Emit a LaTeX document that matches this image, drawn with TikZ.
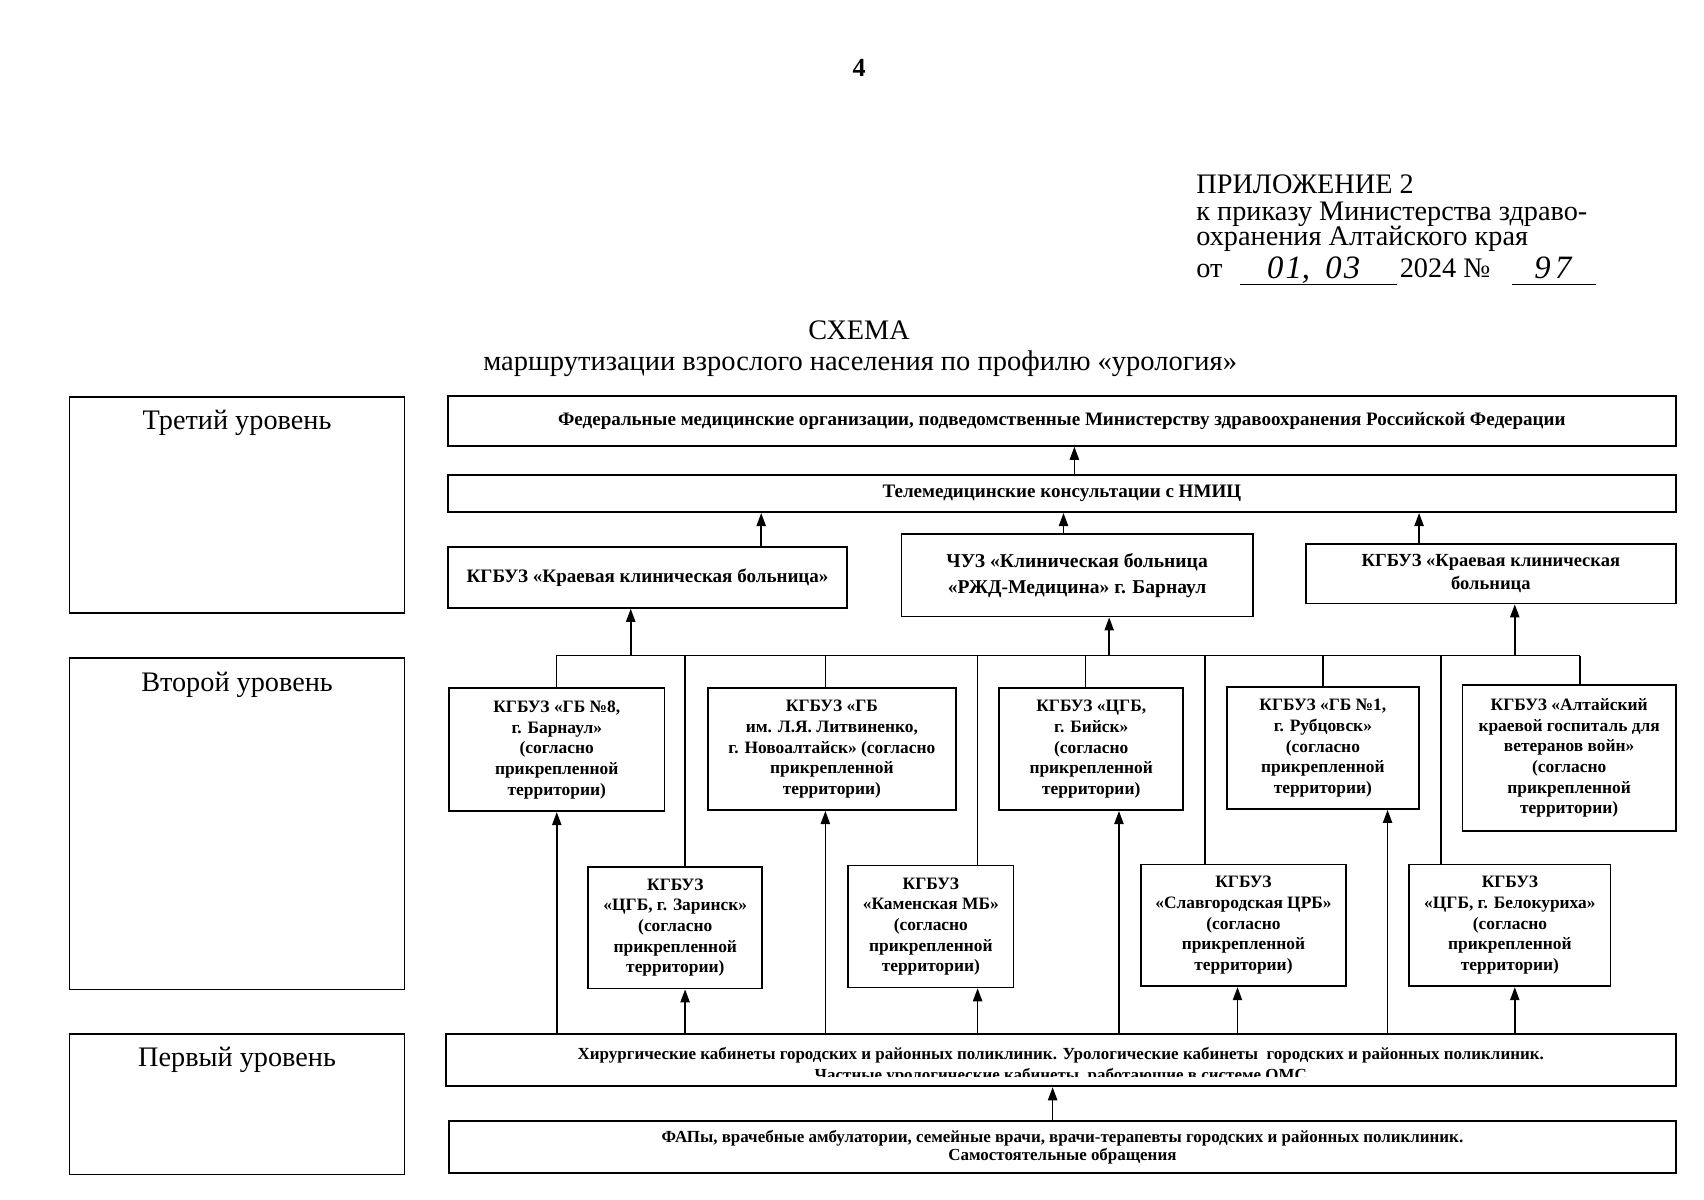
\documentclass[tikz,border=0pt]{standalone}
\usepackage{fontspec}
\setmainfont{Liberation Serif}
\usetikzlibrary{arrows.meta}
\begin{document}
\begin{tikzpicture}[x=1pt,y=-1pt,
  box/.style={draw,line width=1.6pt,inner sep=0pt,align=center,
    font=\fontsize{16}{19}\selectfont\bfseries},
  bigbox/.style={box,font=\fontsize{17.5}{21}\selectfont\bfseries},
  lvl/.style={draw,line width=1.6pt,inner sep=0pt},
  lvltext/.style={font=\fontsize{26}{30}\selectfont,anchor=north,inner sep=0pt},
  hdr/.style={anchor=base west,inner sep=0pt,font=\fontsize{26}{28}\selectfont},
  hand/.style={anchor=base,inner sep=0pt,font=\fontsize{30}{32}\selectfont\itshape},
  ln/.style={line width=1.3pt},
  arr/.style={line width=1.5pt,-{Triangle[length=12pt,width=8.5pt]}},
]
\useasboundingbox (0,0) rectangle (1567,1103);
% page number
\node[font=\fontsize{24}{26}\selectfont\bfseries] (pg) at (790,62) {4};
% header
\node[hdr] (h1) at (1100,178) {ПРИЛОЖЕНИЕ 2};
\node[hdr] (h2) at (1100,203) {к приказу Министерства здраво-};
\node[hdr] (h3) at (1100,226) {охранения Алтайского края};
\node[hdr] (h4) at (1100,255) {от};
\coordinate (u1a) at (1140,262); \coordinate (u1b) at (1285,262);
\draw[line width=1pt] (u1a) -- (u1b);
\node[hand] (d1) at (1208,256) {0\kern2pt1,\kern14pt0\kern2pt3};
\node[hdr] (h5) at (1287,255) {2024 №};
\coordinate (u2a) at (1390,262); \coordinate (u2b) at (1468,262);
\draw[line width=1pt] (u2a) -- (u2b);
\node[hand] (d2) at (1428,256) {9\kern4pt7};
% title
\node[anchor=base,inner sep=0pt,font=\fontsize{26}{30}\selectfont] (t1) at (790,312) {СХЕМА};
\node[anchor=base,inner sep=0pt,font=\fontsize{26.2}{30}\selectfont] (t2) at (791,341) {маршрутизации взрослого населения по профилю «урология»};
% level boxes
\node[lvl,minimum width=308,minimum height=199,
  label={[lvltext,yshift=-13pt]north:Третий уровень}] (L3) at (218,464.5) {};
\node[lvl,minimum width=308,minimum height=305,
  label={[lvltext,yshift=-14pt]north:Второй уровень}] (L2) at (218,757.5) {};
\node[lvl,minimum width=308,minimum height=129,
  label={[lvltext,yshift=-13pt]north:Первый уровень}] (L1) at (218,1015.5) {};
% third level
\node[bigbox,minimum width=1129,minimum height=46] (fed) at (976.5,387)
  {Федеральные медицинские организации, подведомственные Министерству здравоохранения Российской Федерации};
\node[bigbox,minimum width=1129,minimum height=34] (tel) at (976.5,454)
  {Телемедицинские консультации с НМИЦ};
\node[bigbox,minimum width=367,minimum height=56] (kkb1) at (595.5,531)
  {КГБУЗ «Краевая клиническая больница»};
\node[box,minimum width=323,minimum height=76,font=\fontsize{18}{24}\selectfont\bfseries] (rzd) at (990.5,529)
  {ЧУЗ «Клиническая больница\\«РЖД-Медицина» г. Барнаул};
\node[box,minimum width=340,minimum height=55,font=\fontsize{17}{21}\selectfont\bfseries] (kkb2) at (1371,527.5)
  {КГБУЗ «Краевая клиническая\\больница};
% second level, upper row
\node[box,minimum width=198,minimum height=113] (gb8) at (512,689.5)
  {КГБУЗ «ГБ №8,\\г. Барнаул»\\(согласно\\прикрепленной\\территории)};
\node[box,minimum width=228,minimum height=112] (lit) at (765,689)
  {КГБУЗ «ГБ\\им. Л.Я. Литвиненко,\\г. Новоалтайск» (согласно\\прикрепленной\\территории)};
\node[box,minimum width=169,minimum height=112] (bsk) at (1003.5,689)
  {КГБУЗ «ЦГБ,\\г. Бийск»\\(согласно\\прикрепленной\\территории)};
\node[box,minimum width=177,minimum height=112] (rub) at (1216.5,688)
  {КГБУЗ «ГБ №1,\\г. Рубцовск»\\(согласно\\прикрепленной\\территории)};
\node[box,minimum width=196,minimum height=134] (gos) at (1443,697)
  {КГБУЗ «Алтайский\\краевой госпиталь для\\ветеранов войн»\\(согласно\\прикрепленной\\территории)};
% second level, lower row
\node[box,minimum width=160,minimum height=112] (zar) at (621,853)
  {КГБУЗ\\«ЦГБ, г. Заринск»\\(согласно\\прикрепленной\\территории)};
\node[box,minimum width=152,minimum height=112] (kam) at (856,852)
  {КГБУЗ\\«Каменская МБ»\\(согласно\\прикрепленной\\территории)};
\node[box,minimum width=189,minimum height=112] (slv) at (1143.5,851)
  {КГБУЗ\\«Славгородская ЦРБ»\\(согласно\\прикрепленной\\территории)};
\node[box,minimum width=185,minimum height=112] (blk) at (1388.5,851)
  {КГБУЗ\\«ЦГБ, г. Белокуриха»\\(согласно\\прикрепленной\\территории)};
% first level
\begin{scope}
\clip (410,951) rectangle (1541,990);
\node[anchor=north,inner sep=0pt,align=center,font=\fontsize{15.6}{19}\selectfont\bfseries] (hirt) at (975.5,963)
  {Хирургические кабинеты городских и районных поликлиник. Урологические кабинеты\ \ городских и районных поликлиник.\\Частные урологические кабинеты, работающие в системе ОМС};
\end{scope}
\node[lvl,minimum width=1131,minimum height=48] (hir) at (975.5,975) {};
\node[box,minimum width=1128,minimum height=48,font=\fontsize{15.6}{17}\selectfont\bfseries] (fap) at (977,1055)
  {ФАПы, врачебные амбулатории, семейные врачи, врачи-терапевты городских и районных поликлиник.\\Самостоятельные обращения};
% connectors third level
\draw[arr] ([xshift=11.5pt]tel.north) -- ([xshift=11.5pt]fed.south);
\draw[arr] ([xshift=104.5pt]kkb1.north) -- ([xshift=104.5pt]kkb1.north |- tel.south);
\draw[arr] ([xshift=-12.5pt]rzd.north) -- ([xshift=-12.5pt]rzd.north |- tel.south);
\draw[arr] ([xshift=-66pt]kkb2.north) -- ([xshift=-66pt]kkb2.north |- tel.south);
% bus
\coordinate (busR) at (1453,603);
\draw[ln] (gb8.north) |- (busR);
\draw[ln] ([xshift=-6pt]lit.north) -- ([xshift=-6pt]lit.north |- busR);
\draw[ln] ([xshift=-5.5pt]bsk.north) -- ([xshift=-5.5pt]bsk.north |- busR);
\draw[ln] (rub.north) -- (rub.north |- busR);
\draw[ln] ([xshift=10pt]gos.north) -- ([xshift=10pt]gos.north |- busR);
\draw[ln] ([xshift=9pt]zar.north) -- ([xshift=9pt]zar.north |- busR);
\draw[ln] ([xshift=43pt]kam.north) -- ([xshift=43pt]kam.north |- busR);
\draw[ln] ([xshift=-35.5pt]slv.north) -- ([xshift=-35.5pt]slv.north |- busR);
\draw[ln] ([xshift=-63.5pt]blk.north) -- ([xshift=-63.5pt]blk.north |- busR);
\draw[arr] ([xshift=-15.5pt]kkb1.south |- busR) -- ([xshift=-15.5pt]kkb1.south);
\draw[arr] ([xshift=29.5pt]rzd.south |- busR) -- ([xshift=29.5pt]rzd.south);
\draw[arr] ([xshift=22pt]kkb2.south |- busR) -- ([xshift=22pt]kkb2.south);
% arrows from first level
\draw[arr] (gb8.south |- hir.north) -- (gb8.south);
\draw[arr] ([xshift=9pt]zar.south |- hir.north) -- ([xshift=9pt]zar.south);
\draw[arr] ([xshift=-6pt]lit.south |- hir.north) -- ([xshift=-6pt]lit.south);
\draw[arr] ([xshift=43pt]kam.south |- hir.north) -- ([xshift=43pt]kam.south);
\draw[arr] ([xshift=25.5pt]bsk.south |- hir.north) -- ([xshift=25.5pt]bsk.south);
\draw[arr] ([xshift=-5.5pt]slv.south |- hir.north) -- ([xshift=-5.5pt]slv.south);
\draw[arr] ([xshift=59.5pt]rub.south |- hir.north) -- ([xshift=59.5pt]rub.south);
\draw[arr] ([xshift=4.5pt]blk.south |- hir.north) -- ([xshift=4.5pt]blk.south);
\draw[arr] ([xshift=-9pt]fap.north) -- ([xshift=-9pt]fap.north |- hir.south);
\end{tikzpicture}
\end{document}
